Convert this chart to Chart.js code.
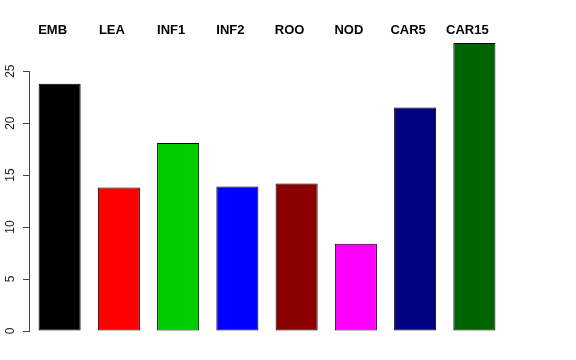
<!DOCTYPE html>
<html>
<head>
<meta charset="utf-8">
<script src="https://cdn.jsdelivr.net/npm/chart.js@4/dist/chart.umd.min.js"></script>
<style>
  html, body { margin: 0; padding: 0; background: #fff; }
  #wrap { width: 576px; height: 360px; }
</style>
</head>
<body>
<div id="wrap"><canvas id="chart"></canvas></div>
<script>
// values
let groups = ['EMB', 'LEA', 'INF1', 'INF2', 'ROO', 'NOD', 'CAR5', 'CAR15'];
let values = [23.8, 13.8, 18.1, 13.9, 14.2, 8.4, 21.5, 27.7];
let barColors = ['#000000', '#ff0000', '#00cd00', '#0000ff', '#8b0000', '#ff00ff', '#000080', '#006400'];
let yTicks = [0, 5, 10, 15, 20, 25];

// R style left axis: line only from first to last tick, labels turned 90 degrees
let rAxis = {
  id: 'rAxis',
  afterDraw(chart) {
    let ctx = chart.ctx;
    let y = chart.scales.y;
    let x0 = y.right - 0.5;
    ctx.save();
    ctx.strokeStyle = '#444';
    ctx.lineWidth = 1;
    ctx.beginPath();
    ctx.moveTo(x0, y.getPixelForValue(yTicks[0]));
    ctx.lineTo(x0, y.getPixelForValue(yTicks[yTicks.length - 1]));
    ctx.stroke();
    ctx.fillStyle = '#222';
    ctx.font = '12px "Liberation Sans", Arial, sans-serif';
    ctx.textAlign = 'center';
    ctx.textBaseline = 'middle';
    yTicks.forEach(v => {
      ctx.save();
      ctx.translate(11, y.getPixelForValue(v));
      ctx.rotate(-Math.PI / 2);
      ctx.fillText(String(v), 0, 0);
      ctx.restore();
    });
    ctx.restore();
  }
};

let myChart = new Chart(document.getElementById('chart'), {
  type: 'bar',
  data: {
    labels: groups,
    datasets: [{
      data: values,
      backgroundColor: barColors,
      borderColor: '#000',
      borderWidth: 1,
      borderSkipped: false,
      categoryPercentage: 1,
      barPercentage: 0.71
    }]
  },
  options: {
    responsive: true,
    maintainAspectRatio: false,
    animation: false,
    layout: { padding: { left: 0, right: 72, top: 0, bottom: 29 } },
    plugins: {
      legend: { display: false },
      tooltip: { enabled: false }
    },
    scales: {
      x: {
        position: 'top',
        grid: { display: false, drawTicks: false },
        border: { display: false },
        afterFit: s => { s.height = 40; },
        ticks: {
          color: '#000',
          font: { family: '"Liberation Sans", Arial, sans-serif', size: 13, weight: 'bold' },
          padding: 2,
          labelOffset: -7,
          maxRotation: 0,
          autoSkip: false
        }
      },
      y: {
        min: 0,
        max: 28,
        afterFit: s => { s.width = 30; },
        border: { display: false },
        grid: { drawOnChartArea: false, drawTicks: true, tickLength: 7, color: '#444' },
        ticks: { stepSize: 5, includeBounds: false, display: false }
      }
    }
  },
  plugins: [rAxis]
});
</script>
</body>
</html>
